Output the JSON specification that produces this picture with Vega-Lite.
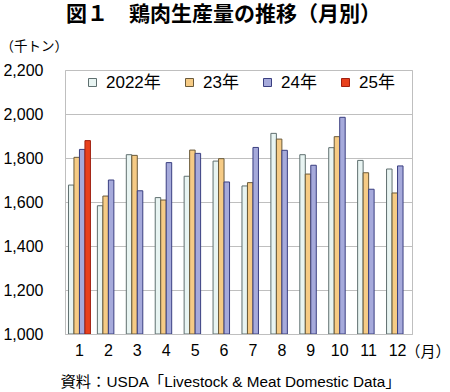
{
  "$schema": "https://vega.github.io/schema/vega-lite/v6.json",
  "width": 347,
  "height": 264,
  "autosize": {"type": "none"},
  "padding": {"left": 65, "top": 70, "right": 38, "bottom": 58},
  "background": "white",
  "title": {
    "text": "図１　鶏肉生産量の推移（月別）",
    "font": "Liberation Sans, Noto Sans CJK JP",
    "fontSize": 21,
    "fontWeight": "bold",
    "color": "#000000",
    "frame": "group",
    "anchor": "middle",
    "dx": -15,
    "offset": 14
  },
  "config": {
    "view": {"stroke": "#BFBFBF", "strokeWidth": 1},
    "font": "Liberation Sans, Noto Sans CJK JP",
    "axis": {"labelFont": "Liberation Sans, Noto Sans CJK JP", "titleFont": "Liberation Sans, Noto Sans CJK JP", "labelColor": "#000000", "titleColor": "#000000", "titleFontWeight": "normal"}
  },
  "data": {
    "values": [
      {"month": 1, "year": "2022年", "value": 1677},
      {"month": 1, "year": "23年", "value": 1803},
      {"month": 1, "year": "24年", "value": 1839},
      {"month": 1, "year": "25年", "value": 1879},
      {"month": 2, "year": "2022年", "value": 1583},
      {"month": 2, "year": "23年", "value": 1627},
      {"month": 2, "year": "24年", "value": 1700},
      {"month": 3, "year": "2022年", "value": 1815},
      {"month": 3, "year": "23年", "value": 1812},
      {"month": 3, "year": "24年", "value": 1651},
      {"month": 4, "year": "2022年", "value": 1620},
      {"month": 4, "year": "23年", "value": 1609},
      {"month": 4, "year": "24年", "value": 1779},
      {"month": 5, "year": "2022年", "value": 1717},
      {"month": 5, "year": "23年", "value": 1836},
      {"month": 5, "year": "24年", "value": 1821},
      {"month": 6, "year": "2022年", "value": 1786},
      {"month": 6, "year": "23年", "value": 1797},
      {"month": 6, "year": "24年", "value": 1691},
      {"month": 7, "year": "2022年", "value": 1673},
      {"month": 7, "year": "23年", "value": 1688},
      {"month": 7, "year": "24年", "value": 1848},
      {"month": 8, "year": "2022年", "value": 1912},
      {"month": 8, "year": "23年", "value": 1886},
      {"month": 8, "year": "24年", "value": 1835},
      {"month": 9, "year": "2022年", "value": 1815},
      {"month": 9, "year": "23年", "value": 1727},
      {"month": 9, "year": "24年", "value": 1767},
      {"month": 10, "year": "2022年", "value": 1847},
      {"month": 10, "year": "23年", "value": 1897},
      {"month": 10, "year": "24年", "value": 1985},
      {"month": 11, "year": "2022年", "value": 1789},
      {"month": 11, "year": "23年", "value": 1733},
      {"month": 11, "year": "24年", "value": 1658},
      {"month": 12, "year": "2022年", "value": 1750},
      {"month": 12, "year": "23年", "value": 1641},
      {"month": 12, "year": "24年", "value": 1764}
    ]
  },
  "layer": [
    {
      "mark": {"type": "bar", "strokeWidth": 1, "clip": true},
      "encoding": {
        "x": {
          "field": "month",
          "type": "ordinal",
          "scale": {"paddingInner": 0.24, "paddingOuter": 0.12},
          "axis": {
            "labelAngle": 0,
            "labelFontSize": 16,
            "labelPadding": 8,
            "labelOverlap": false,
            "domain": true,
            "domainColor": "#BFBFBF",
            "ticks": false,
            "title": "資料：USDA「Livestock & Meat Domestic Data」",
            "titleFontSize": 15.3,
            "titleX": 165,
            "titleY": 47,
            "titleAlign": "center",
            "titleBaseline": "middle"
          }
        },
        "xOffset": {"field": "year", "type": "nominal", "scale": {"domain": ["2022年", "23年", "24年", "25年"], "paddingInner": 0}},
        "y": {
          "field": "value",
          "type": "quantitative",
          "scale": {"domain": [1000, 2200], "nice": false, "zero": false},
          "axis": {
            "values": [1000, 1200, 1400, 1600, 1800, 2000, 2200],
            "format": ",.0f",
            "labelFontSize": 16,
            "labelPadding": 22,
            "ticks": false,
            "domain": false,
            "grid": true,
            "gridColor": "#BFBFBF",
            "gridWidth": 1,
            "title": "（千トン）",
            "titleAngle": 0,
            "titleFontSize": 13.5,
            "titleX": -65,
            "titleY": -24,
            "titleAlign": "left",
            "titleBaseline": "middle"
          }
        },
        "y2": {"datum": 1000},
        "color": {
          "field": "year",
          "type": "nominal",
          "scale": {"domain": ["2022年", "23年", "24年", "25年"], "range": ["#E8F4F2", "#F6CB85", "#A6AADB", "#E8401C"]},
          "legend": {
            "title": null,
            "orient": "none",
            "legendX": 19,
            "legendY": 4,
            "direction": "horizontal",
            "columns": 4,
            "gridAlign": "none",
            "columnPadding": 20,
            "symbolType": "square",
            "symbolSize": 64,
            "symbolStrokeWidth": 1,
            "labelFontSize": 17,
            "labelOffset": 5,
            "labelColor": "#000000",
            "labelFont": "Liberation Sans, Noto Sans CJK JP"
          }
        },
        "stroke": {
          "field": "year",
          "type": "nominal",
          "scale": {"domain": ["2022年", "23年", "24年", "25年"], "range": ["#5F6F6F", "#6A5A3A", "#3A3F80", "#A02010"]},
          "legend": {
            "title": null,
            "orient": "none",
            "legendX": 19,
            "legendY": 4,
            "direction": "horizontal",
            "columns": 4,
            "gridAlign": "none",
            "columnPadding": 20,
            "symbolType": "square",
            "symbolSize": 64,
            "symbolStrokeWidth": 1,
            "labelFontSize": 17,
            "labelOffset": 5,
            "labelColor": "#000000",
            "labelFont": "Liberation Sans, Noto Sans CJK JP"
          }
        }
      }
    },
    {
      "mark": {"type": "point", "opacity": 0},
      "encoding": {
        "x": {"field": "month", "type": "ordinal"},
        "y": {
          "field": "value",
          "type": "quantitative",
          "scale": {"domain": [1000, 2200], "nice": false, "zero": false},
          "axis": {
            "orient": "right",
            "labels": false,
            "ticks": false,
            "domain": false,
            "grid": false,
            "title": "（月）",
            "titleAngle": 0,
            "titleFontSize": 15,
            "titleX": -7,
            "titleY": 281,
            "titleAlign": "left",
            "titleBaseline": "middle"
          }
        }
      }
    }
  ],
  "resolve": {"scale": {"y": "independent"}, "axis": {"y": "independent"}}
}
